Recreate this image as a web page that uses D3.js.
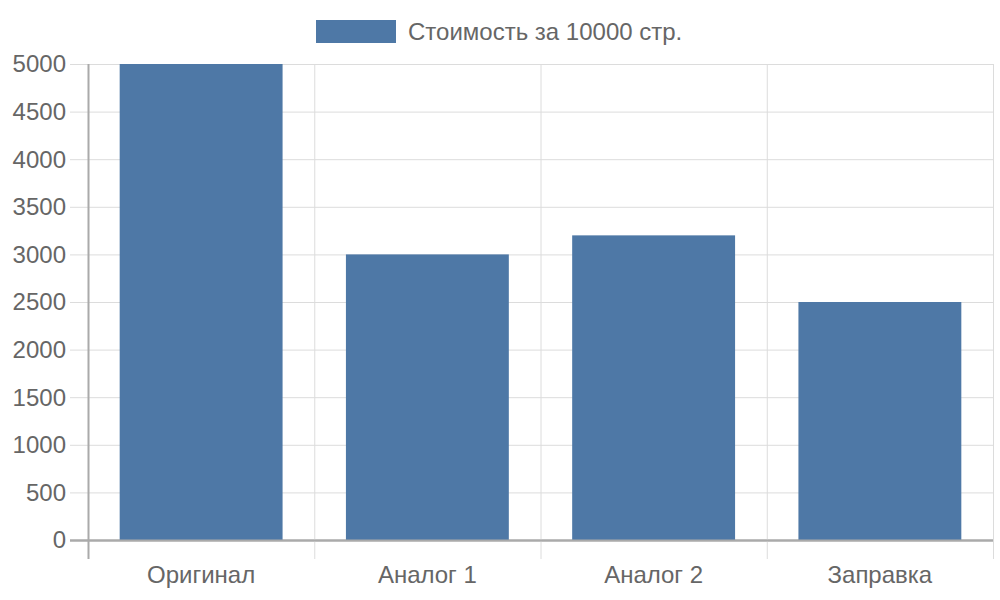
<!DOCTYPE html>
<html>
<head>
<meta charset="utf-8">
<script src="https://d3js.org/d3.v7.min.js"></script>
<style>
  body { margin: 0; background: #fff; }
  text { font-family: "Liberation Sans", Arial, sans-serif; fill: #666; }
</style>
</head>
<body>
<svg id="chart" width="1000" height="600"></svg>
<script>
const categories = ["Оригинал", "Аналог 1", "Аналог 2", "Заправка"];
const values = [5000, 3000, 3200, 2500];
const yTicks = [0, 500, 1000, 1500, 2000, 2500, 3000, 3500, 4000, 4500, 5000];
const seriesName = "Стоимость за 10000 стр.";

const margin = {top: 64, right: 7, bottom: 60, left: 88};
const width = 1000 - margin.left - margin.right,
      height = 600 - margin.top - margin.bottom;

const svg = d3.select("#chart");
const g = svg.append("g").attr("transform", "translate(" + margin.left + "," + margin.top + ")");

const x = d3.scaleBand().domain(categories).range([0, width]).paddingInner(0.28).paddingOuter(0.14);
const xGrid = d3.scaleLinear().domain([0, categories.length]).range([0, width]);
const y = d3.scaleLinear().domain([0, 5000]).range([height, 0]);

// horizontal grid + tick marks
g.selectAll(".hgrid").data(yTicks).enter().append("line")
  .attr("x1", -18).attr("x2", width)
  .attr("y1", d => y(d) + 0.5).attr("y2", d => y(d) + 0.5)
  .attr("stroke", d => d === 0 ? "#aaa" : "#dcdcdc").attr("stroke-width", d => d === 0 ? 2 : 1);

// vertical grid + tick marks
g.selectAll(".vgrid").data(d3.range(categories.length + 1)).enter().append("line")
  .attr("x1", d => xGrid(d) + 0.5).attr("x2", d => xGrid(d) + 0.5)
  .attr("y1", 0).attr("y2", height + 19)
  .attr("stroke", d => d === 0 ? "#aaa" : "#dcdcdc").attr("stroke-width", d => d === 0 ? 2 : 1);

// bars
g.selectAll(".bar").data(values).enter().append("rect")
  .attr("x", (d, i) => x(categories[i]))
  .attr("width", x.bandwidth())
  .attr("y", d => y(d))
  .attr("height", d => height - y(d))
  .attr("fill", "#4e78a6");

// redraw baseline over bars
g.append("line").attr("x1", -18).attr("x2", width).attr("y1", height + 0.5).attr("y2", height + 0.5)
  .attr("stroke", "#aaa").attr("stroke-width", 2);

// y labels
g.selectAll(".ylab").data(yTicks).enter().append("text")
  .attr("x", -22).attr("y", d => y(d)).attr("dy", "0.35em")
  .attr("text-anchor", "end").style("font-size", "24px")
  .text(d => d);

// x labels
g.selectAll(".xlab").data(categories).enter().append("text")
  .attr("x", d => x(d) + x.bandwidth() / 2).attr("y", height + 43)
  .attr("text-anchor", "middle").style("font-size", "24px")
  .text(d => d);

// legend
svg.append("rect").attr("x", 316).attr("y", 20).attr("width", 80).attr("height", 23).attr("fill", "#4e78a6");
svg.append("text").attr("x", 408).attr("y", 32).attr("dy", "0.35em").style("font-size", "24px").text(seriesName);
</script>
</body>
</html>
